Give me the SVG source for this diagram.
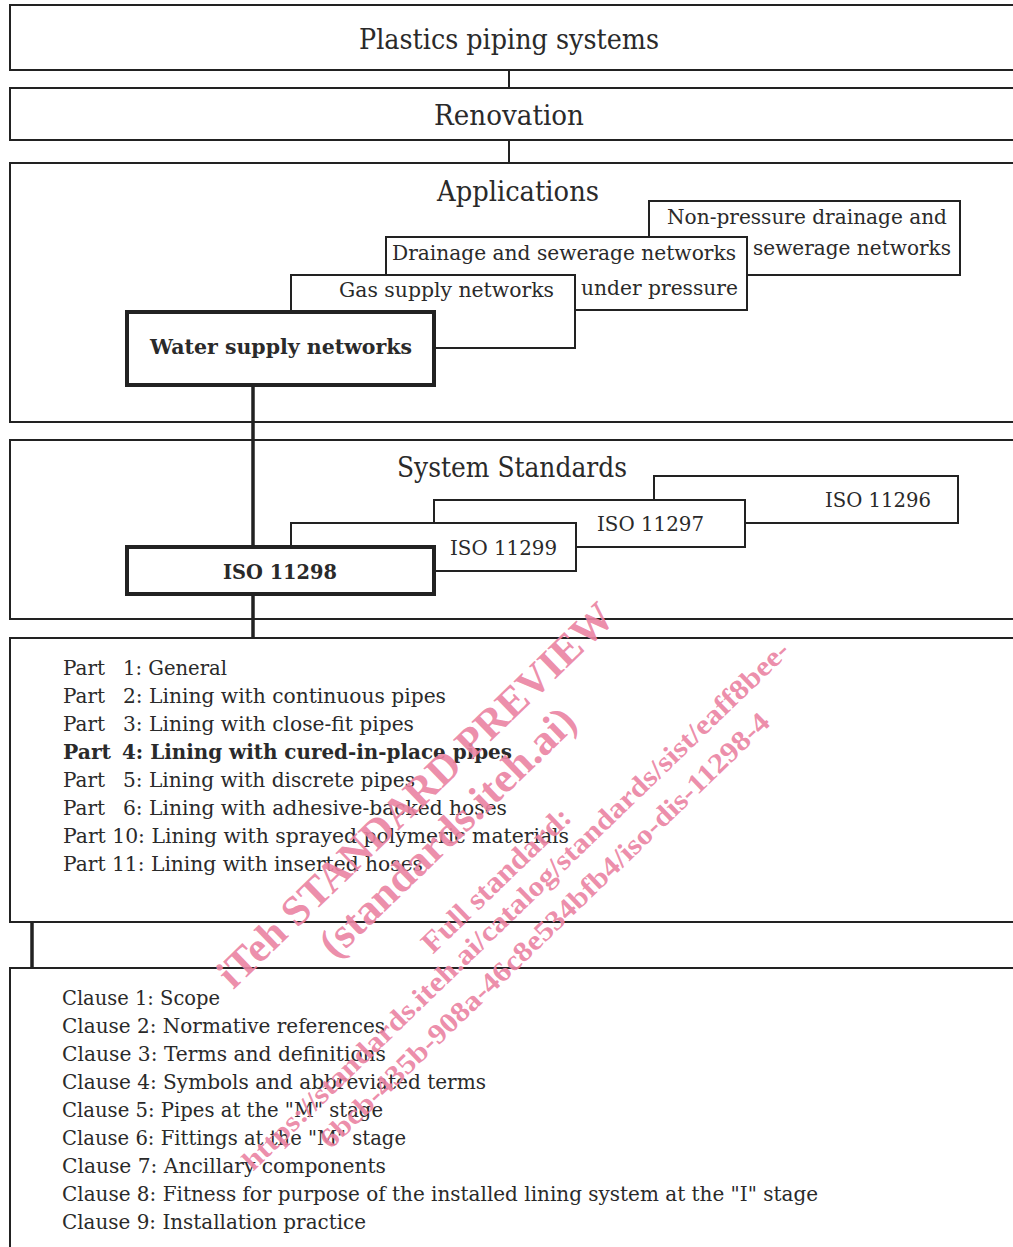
<svg xmlns="http://www.w3.org/2000/svg" width="1013" height="1247" viewBox="0 0 1013 1247">
<style>
.t{font-family:"DejaVu Serif","Liberation Serif",serif;font-size:20.5px;fill:#2a2a2a}
.h{font-size:27.5px}
.b{font-weight:bold}
.box{fill:#fff;stroke:#222;stroke-width:2}
.thick{stroke-width:4}
.ln{stroke:#222;fill:none}
.wm{font-family:"Liberation Serif","Times New Roman",serif;font-weight:bold;fill:#eb84a3;fill-opacity:0.92}
</style>
<rect width="1013" height="1247" fill="#fff"/>

<g id="plastics">
<rect class="box" x="10" y="5" width="1010" height="65"/>
<text class="t h" x="509" y="49" text-anchor="middle" textLength="300" lengthAdjust="spacingAndGlyphs">Plastics piping systems</text>
</g>
<g id="renovation">
<rect class="box" x="10" y="88" width="1010" height="52"/>
<text class="t h" x="509" y="125" text-anchor="middle" textLength="150" lengthAdjust="spacingAndGlyphs">Renovation</text>
</g>
<g id="applications">
<rect class="box" x="10" y="163" width="1010" height="259"/>
<text class="t h" x="518" y="201" text-anchor="middle" textLength="162" lengthAdjust="spacingAndGlyphs">Applications</text>
</g>
<g id="nonpressure">
<rect class="box" x="649" y="201" width="311" height="74"/>
<text class="t" x="667" y="224" textLength="280" lengthAdjust="spacingAndGlyphs">Non-pressure drainage and</text>
<text class="t" x="753" y="255" textLength="198" lengthAdjust="spacingAndGlyphs">sewerage networks</text>
</g>
<g id="drainage">
<rect class="box" x="386" y="237" width="361" height="73"/>
<text class="t" x="392" y="260" textLength="344" lengthAdjust="spacingAndGlyphs">Drainage and sewerage networks</text>
<text class="t" x="581" y="295" textLength="157" lengthAdjust="spacingAndGlyphs">under pressure</text>
</g>
<g id="gas">
<rect class="box" x="291" y="275" width="284" height="73"/>
<text class="t" x="339" y="297" textLength="215" lengthAdjust="spacingAndGlyphs">Gas supply networks</text>
</g>
<g id="water">
<rect class="box thick" x="127" y="312" width="307" height="73"/>
<text class="t b" x="150" y="354" textLength="262" lengthAdjust="spacingAndGlyphs">Water supply networks</text>
</g>

<g id="systemstandards">
<rect class="box" x="10" y="440" width="1010" height="179"/>
<text class="t h" x="512" y="477" text-anchor="middle" textLength="230" lengthAdjust="spacingAndGlyphs">System Standards</text>
</g>
<g id="iso11296">
<rect class="box" x="654" y="476" width="304" height="47"/>
<text class="t" x="825" y="507" textLength="106" lengthAdjust="spacingAndGlyphs">ISO 11296</text>
</g>
<g id="iso11297">
<rect class="box" x="434" y="500" width="311" height="47"/>
<text class="t" x="597" y="531" textLength="107" lengthAdjust="spacingAndGlyphs">ISO 11297</text>
</g>
<g id="iso11299">
<rect class="box" x="291" y="523" width="285" height="48"/>
<text class="t" x="450" y="555" textLength="107" lengthAdjust="spacingAndGlyphs">ISO 11299</text>
</g>

<g id="connectors">
<line class="ln" x1="509" y1="70" x2="509" y2="88" stroke-width="2"/>
<line class="ln" x1="509" y1="140" x2="509" y2="163" stroke-width="2"/>
<line class="ln" x1="253" y1="385" x2="253" y2="547" stroke-width="3.5"/>
<line class="ln" x1="253" y1="594" x2="253" y2="638" stroke-width="3.5"/>
<polyline class="ln" points="60,752 32,752 32,968" stroke-width="3.5"/>
</g>

<g id="iso11298">
<rect class="box thick" x="127" y="547" width="307" height="47"/>
<text class="t b" x="223" y="579" textLength="114" lengthAdjust="spacingAndGlyphs">ISO 11298</text>
</g>

<g id="parts">
<rect class="box" x="10" y="638" width="1010" height="284"/>
<text class="t" x="63" y="675" textLength="42" lengthAdjust="spacingAndGlyphs">Part</text>
<text class="t" x="123" y="675" textLength="104" lengthAdjust="spacingAndGlyphs">1: General</text>
<text class="t" x="63" y="703" textLength="42" lengthAdjust="spacingAndGlyphs">Part</text>
<text class="t" x="123" y="703" textLength="323" lengthAdjust="spacingAndGlyphs">2: Lining with continuous pipes</text>
<text class="t" x="63" y="731" textLength="42" lengthAdjust="spacingAndGlyphs">Part</text>
<text class="t" x="123" y="731" textLength="291" lengthAdjust="spacingAndGlyphs">3: Lining with close-fit pipes</text>
<text class="t b" x="63" y="759" textLength="48" lengthAdjust="spacingAndGlyphs">Part</text>
<text class="t b" x="122" y="759" textLength="390" lengthAdjust="spacingAndGlyphs">4: Lining with cured-in-place pipes</text>
<text class="t" x="63" y="787" textLength="42" lengthAdjust="spacingAndGlyphs">Part</text>
<text class="t" x="123" y="787" textLength="292" lengthAdjust="spacingAndGlyphs">5: Lining with discrete pipes</text>
<text class="t" x="63" y="815" textLength="42" lengthAdjust="spacingAndGlyphs">Part</text>
<text class="t" x="123" y="815" textLength="384" lengthAdjust="spacingAndGlyphs">6: Lining with adhesive-backed hoses</text>
<text class="t" x="63" y="843" textLength="506" lengthAdjust="spacingAndGlyphs">Part 10: Lining with sprayed polymeric materials</text>
<text class="t" x="63" y="871" textLength="360" lengthAdjust="spacingAndGlyphs">Part 11: Lining with inserted hoses</text>
</g>

<g id="clauses">
<rect class="box" x="10" y="968" width="1010" height="300"/>
<text class="t" x="62" y="1005" textLength="158" lengthAdjust="spacingAndGlyphs">Clause 1: Scope</text>
<text class="t" x="62" y="1033" textLength="323" lengthAdjust="spacingAndGlyphs">Clause 2: Normative references</text>
<text class="t" x="62" y="1061" textLength="324" lengthAdjust="spacingAndGlyphs">Clause 3: Terms and definitions</text>
<text class="t" x="62" y="1089" textLength="424" lengthAdjust="spacingAndGlyphs">Clause 4: Symbols and abbreviated terms</text>
<text class="t" x="62" y="1117" textLength="321" lengthAdjust="spacingAndGlyphs">Clause 5: Pipes at the "M" stage</text>
<text class="t" x="62" y="1145" textLength="344" lengthAdjust="spacingAndGlyphs">Clause 6: Fittings at the "M" stage</text>
<text class="t" x="62" y="1173" textLength="324" lengthAdjust="spacingAndGlyphs">Clause 7: Ancillary components</text>
<text class="t" x="62" y="1201" textLength="756" lengthAdjust="spacingAndGlyphs">Clause 8: Fitness for purpose of the installed lining system at the "I" stage</text>
<text class="t" x="62" y="1229" textLength="304" lengthAdjust="spacingAndGlyphs">Clause 9: Installation practice</text>
</g>

<g id="watermark">
<text class="wm" x="425" y="805" font-size="42" text-anchor="middle" textLength="533" lengthAdjust="spacingAndGlyphs" transform="rotate(-44 425 805)">iTeh STANDARD PREVIEW</text>
<text class="wm" x="457" y="842" font-size="42" text-anchor="middle" textLength="339" lengthAdjust="spacingAndGlyphs" transform="rotate(-44 457 842)">(standards.iteh.ai)</text>
<text class="wm" x="503" y="887" font-size="30" text-anchor="middle" textLength="195" lengthAdjust="spacingAndGlyphs" transform="rotate(-44 503 887)">Full standard:</text>
<text class="wm" x="522" y="912" font-size="28" text-anchor="middle" textLength="748" lengthAdjust="spacingAndGlyphs" transform="rotate(-44 522 912)">https://standards.iteh.ai/catalog/standards/sist/eaff8bee-</text>
<text class="wm" x="551" y="937" font-size="28" text-anchor="middle" textLength="613" lengthAdjust="spacingAndGlyphs" transform="rotate(-44 551 937)">6bcb-435b-908a-46c8e534bfb4/iso-dis-11298-4</text>
</g>
</svg>
